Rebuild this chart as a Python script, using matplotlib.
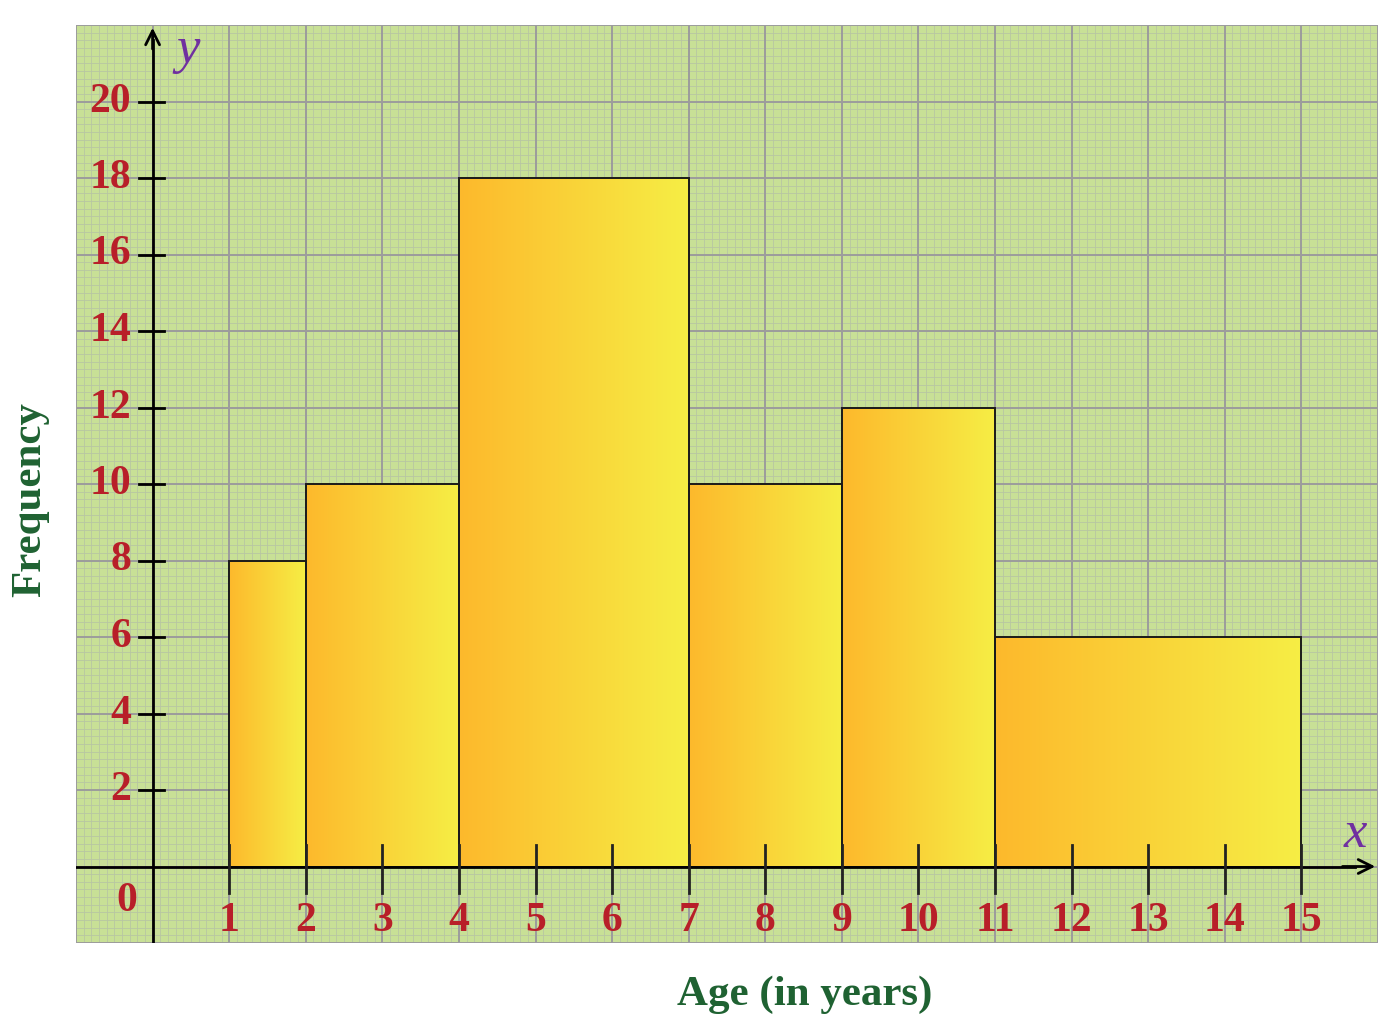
import numpy as np
import matplotlib
matplotlib.use("Agg")
import matplotlib.pyplot as plt
from matplotlib.colors import LinearSegmentedColormap

# ==== Data ====
bin_left = [1, 2, 4, 7, 9, 11]
bin_right = [2, 4, 7, 9, 11, 15]
frequency = [8, 10, 18, 10, 12, 6]
x_ticks = list(range(1, 16))
y_ticks = list(range(2, 21, 2))

# ==== Style ====
paper = "#c8e096"
minor_col = "#b8c6a2"
major_col = "#9c9c9c"
tick_red = "#b81f29"
label_green = "#1f6232"
letter_purple = "#7030a0"
bar_cmap = LinearSegmentedColormap.from_list("bar", ["#fdb92c", "#f6ee45"])
serif = ["Liberation Serif", "DejaVu Serif"]

fig = plt.figure(figsize=(13.98, 10.35), dpi=100)
ax = fig.add_axes([76 / 1398, 92 / 1035, 1302 / 1398, 918 / 1035])
ax.set_xlim(-1, 16)
ax.set_ylim(-2, 22)
ax.set_facecolor(paper)
for s in ax.spines.values():
    s.set_visible(False)
ax.set_xticks([])
ax.set_yticks([])

# --- graph paper ---
for xv in np.arange(-1, 16.01, 0.1):
    ax.axvline(xv, color=minor_col, lw=0.6, zorder=1)
for yv in np.arange(-2, 22.01, 0.2):
    ax.axhline(yv, color=minor_col, lw=0.6, zorder=1)
for xv in range(-1, 17):
    ax.axvline(xv, color=major_col, lw=1.4, zorder=2)
for yv in range(-2, 23, 2):
    ax.axhline(yv, color=major_col, lw=1.4, zorder=2)

# --- bars with horizontal gradient ---
grad = np.linspace(0, 1, 256).reshape(1, -1)
for l, r, f in zip(bin_left, bin_right, frequency):
    ax.imshow(grad, cmap=bar_cmap, extent=[l, r, 0, f], aspect="auto",
              interpolation="bilinear", zorder=3)
    ax.add_patch(plt.Rectangle((l, 0), r - l, f, fill=False,
                               edgecolor="#1a1a1a", lw=1.4, zorder=4))
ax.set_xlim(-1, 16)
ax.set_ylim(-2, 22)

# --- axes with arrows ---
ax.plot([0, 0], [-2, 21.6], color="black", lw=2, zorder=5)
ax.plot([-1, 15.7], [0, 0], color="black", lw=2, zorder=5)
ax.annotate("", xy=(0, 22), xytext=(0, 21.3),
            arrowprops=dict(arrowstyle="->", color="black", lw=2,
                            mutation_scale=25), zorder=6)
ax.annotate("", xy=(16, 0), xytext=(15.5, 0),
            arrowprops=dict(arrowstyle="->", color="black", lw=2,
                            mutation_scale=25), zorder=6)

# --- ticks and labels ---
for yv in y_ticks:
    ax.plot([-0.18, 0.15], [yv, yv], color="black", lw=2, zorder=5)
    ax.text(-0.28, yv, str(yv), ha="right", va="center", fontsize=30,
            fontweight="bold", color=tick_red, family=serif, zorder=6)
for xv in x_ticks:
    ax.plot([xv, xv], [0.55, -0.7], color="#222222", lw=2, zorder=5)
    ax.text(xv, -1.42, str(xv), ha="center", va="center", fontsize=30,
            fontweight="bold", color=tick_red, family=serif, zorder=6)
ax.text(-0.34, -0.9, "0", ha="center", va="center", fontsize=30,
        fontweight="bold", color=tick_red, family=serif, zorder=6)

ax.text(0.47, 21.35, "y", ha="center", va="center", fontsize=38,
        style="italic", color=letter_purple, family=serif, zorder=6)
ax.text(15.7, 0.85, "x", ha="center", va="center", fontsize=38,
        style="italic", color=letter_purple, family=serif, zorder=6)

fig.text(805 / 1398, 1 - 995 / 1035, "Age (in years)", ha="center", va="center",
         fontsize=31, fontweight="bold", color=label_green, family=serif)
fig.text(30 / 1398, 1 - 500 / 1035, "Frequency", ha="center", va="center",
         rotation=90, fontsize=31, fontweight="bold", color=label_green,
         family=serif)

plt.savefig("out.png", dpi=100)
